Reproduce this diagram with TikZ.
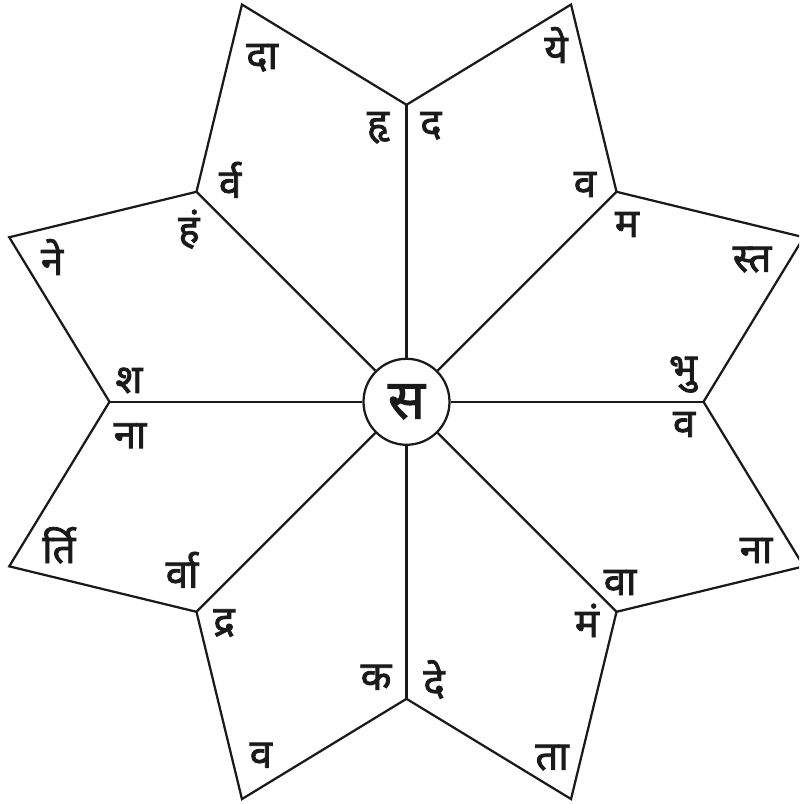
\documentclass[tikz,border=0pt]{standalone}
\usepackage{fontspec}
\usepackage{xcolor}
\usepackage{tikz}
\usetikzlibrary{positioning}
\newfontfamily\devafont[Script=Devanagari, FakeBold=2]{Noto Sans}
\definecolor{lotusink}{HTML}{1A1A1A}

\begin{document}
\begin{tikzpicture}[
    petal/.style={line width=1.6pt, draw=lotusink},
    syl/.style={anchor=base, inner sep=0pt, text=lotusink, font=\devafont\fontsize{28.5}{30}\selectfont}
]
    \useasboundingbox (-10.1625,-10.055) rectangle (9.8125,10.045);
    \clip (-10.1625,-10.055) rectangle (9.8125,10.045);

    % Star corners: inner (i) and outer tips (t)
    \foreach \k in {0,...,7} {
        \coordinate (i\k) at (\k*45:7.425);
        \coordinate (t\k) at (\k*45+22.5:10.75);
    }

    % Centre circle
    \node[circle, petal, minimum size=2.15cm, inner sep=0pt, text=lotusink,
          font=\devafont\fontsize{39}{40}\selectfont] (hub) at (0,0) {स};

    % Star outline
    \draw[petal] (i0) -- (t0) -- (i1) -- (t1) -- (i2) -- (t2) -- (i3) -- (t3)
        -- (i4) -- (t4) -- (i5) -- (t5) -- (i6) -- (t6) -- (i7) -- (t7) -- cycle;

    % Spokes
    \foreach \k in {0,...,7} \draw[petal] (hub) -- (i\k);

    % Syllables
    \foreach \x/\y/\txt [count=\n] in {-3.61/8.32/दा, 3.74/8.47/ये, -0.71/6.62/हृ, 0.61/6.62/द,
        -4.41/5.10/र्व, 4.46/5.12/व, -8.86/3.17/ने, -5.44/3.97/हं, -6.94/0.22/श,
        5.51/4.12/म, 8.64/3.25/स्त, 6.91/0.50/भु, 6.94/-0.88/व, -6.91/-1.16/ना,
        -8.69/-4.03/र्ति, -5.61/-4.65/र्वा, -4.56/-5.81/द्र, 8.74/-4.03/ना,
        5.34/-4.83/वा, 4.51/-5.88/मं, -0.76/-7.20/क, 0.69/-7.36/दे,
        -3.64/-9.15/व, 3.64/-9.20/ता} {
        \node[syl] (s\n) at (\x,\y) {\txt};
    }
\end{tikzpicture}
\end{document}
